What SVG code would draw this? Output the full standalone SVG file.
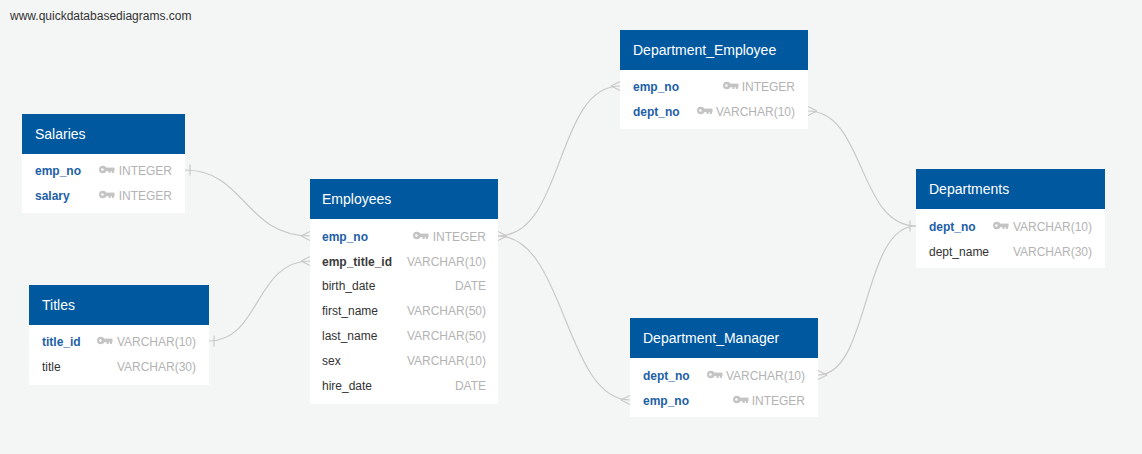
<svg xmlns="http://www.w3.org/2000/svg" width="1142" height="454" viewBox="0 0 1142 454">
  <defs>
    <style>
      .bg { fill: #f4f5f5; }
      .hdr { fill: #00589f; }
      .body { fill: #ffffff; }
      .title { font-family: "Liberation Sans", Arial, sans-serif; font-size: 14px; fill: #ffffff; }
      .pk { font-family: "Liberation Sans", Arial, sans-serif; font-size: 12px; font-weight: bold; fill: #1d60a6; }
      .fk { font-family: "Liberation Sans", Arial, sans-serif; font-size: 12px; font-weight: bold; fill: #3a3a3a; }
      .fld { font-family: "Liberation Sans", Arial, sans-serif; font-size: 12px; fill: #333333; }
      .typ { font-family: "Liberation Sans", Arial, sans-serif; font-size: 12px; fill: #b3b3b3; text-anchor: end; }
      .wm { font-family: "Liberation Sans", Arial, sans-serif; font-size: 12px; fill: #333333; }
      .rel { fill: none; stroke: #c8c8c8; stroke-width: 1.2; }
      .key { fill: #c4c4c4; }
    </style>
    <!-- small key glyph, origin at left-middle -->
    <g id="key">
      <circle class="key" cx="3.8" cy="0" r="3.8"/>
      <rect class="key" x="5" y="-1.9" width="10.5" height="3.5"/>
      <rect class="key" x="9.5" y="1" width="2.2" height="2.4"/>
      <rect class="key" x="12.8" y="1" width="2.2" height="2.4"/>
      <circle cx="3.4" cy="0" r="1.2" fill="#ffffff"/>
    </g>
  </defs>

  <rect class="bg" x="0" y="0" width="1142" height="454"/>
  <text class="wm" x="10" y="20">www.quickdatabasediagrams.com</text>

  <!-- relationships -->
  <g id="connectors">
    <!-- Salaries.emp_no -> Employees.emp_no -->
    <path class="rel" d="M185,170 C245,170 245,236 310,236"/>
    <path class="rel" d="M190,164.5 V175.5"/>
    <path class="rel" d="M301,236 L310,231.5 M301,236 L310,240.5"/>
    <!-- Titles.title_id -> Employees.emp_title_id -->
    <path class="rel" d="M209,341 C260,341 255,261 310,261"/>
    <path class="rel" d="M214,335.5 V346.5"/>
    <path class="rel" d="M301,261 L310,256.5 M301,261 L310,265.5"/>
    <!-- Employees.emp_no -> Department_Employee.emp_no -->
    <path class="rel" d="M498,236 C565,236 555,86 620,86"/>
    <!-- Employees.emp_no -> Department_Manager.emp_no -->
    <path class="rel" d="M498,236 C565,236 565,400 630,400"/>
    <path class="rel" d="M507,236 L498,231.5 M507,236 L498,240.5"/>
    <path class="rel" d="M611,86 L620,81.5 M611,86 L620,90.5"/>
    <path class="rel" d="M621,400 L630,395.5 M621,400 L630,404.5"/>
    <!-- Department_Employee.dept_no -> Departments.dept_no -->
    <path class="rel" d="M808,111 C865,111 858,226 916,226"/>
    <path class="rel" d="M817,111 L808,106.5 M817,111 L808,115.5"/>
    <!-- Department_Manager.dept_no -> Departments.dept_no -->
    <path class="rel" d="M818,375 C870,375 862,226 916,226"/>
    <path class="rel" d="M827,375 L818,370.5 M827,375 L818,379.5"/>
    <path class="rel" d="M910,220.5 V231.5"/>
  </g>

  <!-- Salaries -->
  <g id="salaries">
    <rect class="body" x="22" y="114" width="163" height="99"/>
    <rect class="hdr" x="22" y="114" width="163" height="40"/>
    <text class="title" x="35" y="139">Salaries</text>
    <text class="pk" x="35" y="174.5">emp_no</text>
    <use href="#key" x="99" y="169.5"/>
    <text class="typ" x="172" y="174.5">INTEGER</text>
    <text class="pk" x="35" y="199.5">salary</text>
    <use href="#key" x="99" y="194.5"/>
    <text class="typ" x="172" y="199.5">INTEGER</text>
  </g>

  <!-- Titles -->
  <g id="titles">
    <rect class="body" x="29" y="285" width="180" height="100"/>
    <rect class="hdr" x="29" y="285" width="180" height="40"/>
    <text class="title" x="42" y="310">Titles</text>
    <text class="pk" x="42" y="345.5">title_id</text>
    <use href="#key" x="97" y="340.5"/>
    <text class="typ" x="196" y="345.5">VARCHAR(10)</text>
    <text class="fld" x="42" y="370.5">title</text>
    <text class="typ" x="196" y="370.5">VARCHAR(30)</text>
  </g>

  <!-- Employees -->
  <g id="employees">
    <rect class="body" x="310" y="179" width="188" height="225"/>
    <rect class="hdr" x="310" y="179" width="188" height="40"/>
    <text class="title" x="322" y="204">Employees</text>
    <text class="pk" x="322" y="240.5">emp_no</text>
    <use href="#key" x="413" y="235.5"/>
    <text class="typ" x="486" y="240.5">INTEGER</text>
    <text class="fk" x="322" y="265.5">emp_title_id</text>
    <text class="typ" x="486" y="265.5">VARCHAR(10)</text>
    <text class="fld" x="322" y="290">birth_date</text>
    <text class="typ" x="486" y="290">DATE</text>
    <text class="fld" x="322" y="315">first_name</text>
    <text class="typ" x="486" y="315">VARCHAR(50)</text>
    <text class="fld" x="322" y="340">last_name</text>
    <text class="typ" x="486" y="340">VARCHAR(50)</text>
    <text class="fld" x="322" y="365">sex</text>
    <text class="typ" x="486" y="365">VARCHAR(10)</text>
    <text class="fld" x="322" y="390">hire_date</text>
    <text class="typ" x="486" y="390">DATE</text>
  </g>

  <!-- Department_Employee -->
  <g id="department_employee">
    <rect class="body" x="620" y="30" width="188" height="99"/>
    <rect class="hdr" x="620" y="30" width="188" height="40"/>
    <text class="title" x="633" y="55">Department_Employee</text>
    <text class="pk" x="633" y="90.5">emp_no</text>
    <use href="#key" x="723" y="85.5"/>
    <text class="typ" x="795" y="90.5">INTEGER</text>
    <text class="pk" x="633" y="115.5">dept_no</text>
    <use href="#key" x="697" y="110.5"/>
    <text class="typ" x="795" y="115.5">VARCHAR(10)</text>
  </g>

  <!-- Department_Manager -->
  <g id="department_manager">
    <rect class="body" x="630" y="318" width="188" height="99"/>
    <rect class="hdr" x="630" y="318" width="188" height="40"/>
    <text class="title" x="643" y="343">Department_Manager</text>
    <text class="pk" x="643" y="379.5">dept_no</text>
    <use href="#key" x="707" y="374.5"/>
    <text class="typ" x="805" y="379.5">VARCHAR(10)</text>
    <text class="pk" x="643" y="404.5">emp_no</text>
    <use href="#key" x="733" y="399.5"/>
    <text class="typ" x="805" y="404.5">INTEGER</text>
  </g>

  <!-- Departments -->
  <g id="departments">
    <rect class="body" x="916" y="169" width="189" height="99"/>
    <rect class="hdr" x="916" y="169" width="189" height="40"/>
    <text class="title" x="929" y="194">Departments</text>
    <text class="pk" x="929" y="230.5">dept_no</text>
    <use href="#key" x="993" y="225.5"/>
    <text class="typ" x="1092" y="230.5">VARCHAR(10)</text>
    <text class="fld" x="929" y="255.5">dept_name</text>
    <text class="typ" x="1092" y="255.5">VARCHAR(30)</text>
  </g>
</svg>
